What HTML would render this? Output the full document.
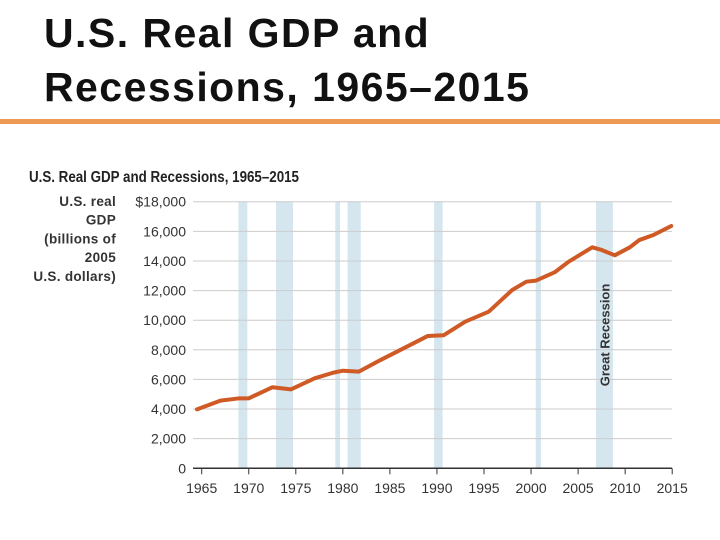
<!DOCTYPE html>
<html><head><meta charset="utf-8"><style>
body{margin:0;width:720px;height:540px;background:#fff;overflow:hidden;position:relative;font-family:"Liberation Sans",sans-serif}
#title{position:absolute;left:44px;top:6px;font-size:41px;font-weight:bold;line-height:54px;letter-spacing:1.45px;color:#111;margin:0}
#rule{position:absolute;left:0;top:119px;width:720px;height:5px;background:#ec9a55}
svg{position:absolute;left:0;top:0}
</style></head><body>
<h1 id="title">U.S. Real GDP and<br>Recessions, 1965–2015</h1>
<div id="rule"></div>
<svg id="chart" width="720" height="540"></svg>
<script>
const years=[1964.5,1967,1969,1970,1972.5,1974.5,1977,1979,1980,1981.7,1984,1987.5,1989,1990.7,1993,1995.5,1998,1999.5,2000.5,2002.5,2004,2006.5,2007.5,2008.9,2010.5,2011.5,2013,2014.9];
const gdp=[3980,4570,4725,4725,5470,5330,6075,6460,6590,6525,7310,8440,8930,8980,9900,10575,12040,12600,12670,13230,13950,14920,14740,14380,14920,15410,15750,16360];
const recStart=[1968.9,1972.9,1979.2,1980.5,1989.7,2000.5,2006.9];
const recEnd=[1969.85,1974.7,1979.7,1981.9,1990.6,2001.05,2008.7];
const yTicks=[0,2000,4000,6000,8000,10000,12000,14000,16000,18000];
const yTickLabels=["0","2,000","4,000","6,000","8,000","10,000","12,000","14,000","16,000","$18,000"];
const xTicks=[1965,1970,1975,1980,1985,1990,1995,2000,2005,2010,2015];
const NS="http://www.w3.org/2000/svg";
const svg=document.getElementById('chart');
const X=y=>201.7+(y-1965)*9.41;
const Y=v=>468.3-v*(266.6/18000);
function mk(t,a,p){const e=document.createElementNS(NS,t);for(const k in a)e.setAttribute(k,a[k]);(p||svg).appendChild(e);return e;}
function txt(s,a){const e=mk('text',a);e.textContent=s;return e;}
recStart.forEach((s,i)=>{const r=mk('rect',{x:X(s),y:Y(18000),width:X(recEnd[i])-X(s),height:Y(0)-Y(18000),fill:'#d5e6ee'});

});
yTicks.forEach((v,i)=>{if(v>0){const g=mk('line',{x1:193,x2:672,y1:Y(v),y2:Y(v),stroke:'#cccccc','stroke-width':1});

}
const t=txt(yTickLabels[i],{x:186,y:Y(v)+5,'text-anchor':'end','font-size':'14','fill':'#333'});

});
const ax=mk('line',{x1:193,x2:672,y1:Y(0),y2:Y(0),stroke:'#333','stroke-width':1.5});


xTicks.forEach(yr=>{mk('line',{x1:X(yr),x2:X(yr),y1:Y(0),y2:Y(0)+6,stroke:'#333','stroke-width':1});
const t=txt(String(yr),{x:X(yr),y:493,'text-anchor':'middle','font-size':'14','fill':'#333'});

});
const pl=mk('polyline',{points:years.map((y,i)=>X(y)+','+Y(gdp[i])).join(' '),fill:'none',stroke:'#cf5a25','stroke-width':4,'stroke-linejoin':'round','stroke-linecap':'round'});


const gr=txt('Great Recession',{x:0,y:0,transform:`translate(${(X(2006.9)+X(2008.7))/2+5},335) rotate(-90)`,'text-anchor':'middle','font-size':'13','font-weight':'bold','fill':'#333'});


const ct=txt('U.S. Real GDP and Recessions, 1965–2015',{x:29,y:182,'font-size':'15.5','font-weight':'bold','fill':'#222',textLength:270,lengthAdjust:'spacingAndGlyphs'});


['U.S. real','GDP','(billions of','2005','U.S. dollars)'].forEach((s,i)=>{const t=txt(s,{x:116,y:206+i*18.7,'text-anchor':'end','font-size':'13.5','font-weight':'bold','fill':'#333','letter-spacing':'0.3'});

});
</script>
</body></html>
